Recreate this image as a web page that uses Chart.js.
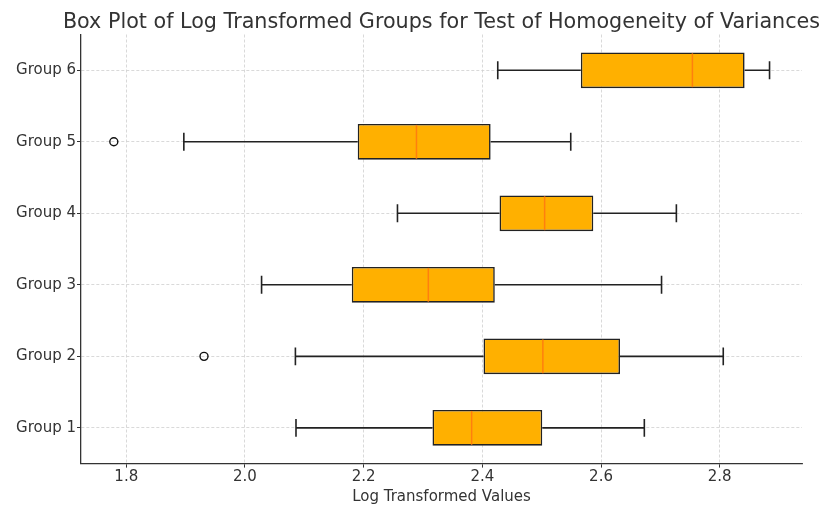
<!DOCTYPE html>
<html>
<head>
<meta charset="utf-8">
<script src="https://cdn.jsdelivr.net/npm/chart.js@4"></script>
<style>
  html, body { margin: 0; padding: 0; background: #fff; }
  #wrap { width: 823px; height: 506px; }
</style>
</head>
<body>
<div id="wrap"><canvas id="boxChart" width="823" height="506"></canvas></div>
<script>
// Box plot data (log transformed values)
const groups = ['Group 1', 'Group 2', 'Group 3', 'Group 4', 'Group 5', 'Group 6'];
const whiskerLow = [2.086, 2.085, 2.028, 2.257, 1.897, 2.426];
const q1Values = [2.316, 2.402, 2.180, 2.429, 2.190, 2.566];
const medians = [2.382, 2.502, 2.309, 2.505, 2.289, 2.754];
const q3Values = [2.501, 2.632, 2.421, 2.587, 2.414, 2.842];
const whiskerHigh = [2.673, 2.806, 2.702, 2.727, 2.549, 2.884];
const outlierGroups = ['Group 2', 'Group 5'];
const outlierValues = [1.931, 1.779];
const xTicks = [1.8, 2.0, 2.2, 2.4, 2.6, 2.8];

const FONT = 'DejaVu Sans';
const TEXT = '#333333';
const GRID = '#cfcfcf';
const TITLE = 'Box Plot of Log Transformed Groups for Test of Homogeneity of Variances';

// whiskers, caps and median lines drawn on top of the boxes
const boxParts = {
  id: 'boxParts',
  afterDatasetsDraw(chart) {
    const ctx = chart.ctx;
    const x = chart.scales.x;
    const y = chart.scales.y;
    const band = Math.abs(y.getPixelForValue(1) - y.getPixelForValue(0));
    const capHalf = band * 0.125;
    const boxHalf = band * 0.25;
    ctx.save();
    ctx.lineCap = 'butt';
    groups.forEach((g, i) => {
      const cy = y.getPixelForValue(i);
      // whiskers
      ctx.strokeStyle = '#222222';
      ctx.lineWidth = 1.6;
      ctx.beginPath();
      ctx.moveTo(x.getPixelForValue(whiskerLow[i]), cy);
      ctx.lineTo(x.getPixelForValue(q1Values[i]), cy);
      ctx.moveTo(x.getPixelForValue(q3Values[i]), cy);
      ctx.lineTo(x.getPixelForValue(whiskerHigh[i]), cy);
      // caps
      [whiskerLow[i], whiskerHigh[i]].forEach(v => {
        const px = x.getPixelForValue(v);
        ctx.moveTo(px, cy - capHalf);
        ctx.lineTo(px, cy + capHalf);
      });
      ctx.stroke();
      // median
      const mx = x.getPixelForValue(medians[i]);
      ctx.strokeStyle = '#ff7f0e';
      ctx.lineWidth = 1.5;
      ctx.beginPath();
      ctx.moveTo(mx, cy - boxHalf + 1);
      ctx.lineTo(mx, cy + boxHalf - 1);
      ctx.stroke();
    });
    ctx.restore();
  }
};

// title drawn by hand so it can run wider than the plot area, like the original
const titlePlugin = {
  id: 'wideTitle',
  afterDraw(chart) {
    const ctx = chart.ctx;
    const area = chart.chartArea;
    ctx.save();
    ctx.font = '20.7px "' + FONT + '"';
    ctx.fillStyle = TEXT;
    ctx.textAlign = 'center';
    ctx.textBaseline = 'alphabetic';
    ctx.fillText(TITLE, (area.left + area.right) / 2, 27.5);
    ctx.restore();
  }
};

const ctx = document.getElementById('boxChart').getContext('2d');

new Chart(ctx, {
  data: {
    labels: groups,
    datasets: [
      {
        type: 'bar',
        label: 'IQR',
        data: groups.map((g, i) => [q1Values[i], q3Values[i]]),
        backgroundColor: '#ffb000',
        borderColor: '#222222',
        borderWidth: 1.6,
        borderSkipped: false,
        barPercentage: 0.5,
        categoryPercentage: 1.0,
        order: 2
      },
      {
        type: 'scatter',
        label: 'Outliers',
        data: outlierGroups.map((g, i) => ({ x: outlierValues[i], y: g })),
        pointStyle: 'circle',
        pointRadius: 4,
        pointBackgroundColor: 'rgba(255,255,255,0)',
        pointBorderColor: '#111111',
        pointBorderWidth: 1.4,
        order: 1
      }
    ]
  },
  options: {
    indexAxis: 'y',
    responsive: false,
    animation: false,
    events: [],
    layout: { padding: { left: 0, right: 21, top: 34.5, bottom: 0 } },
    plugins: {
      legend: { display: false },
      tooltip: { enabled: false },
      title: { display: false }
    },
    scales: {
      x: {
        type: 'linear',
        min: 1.7237,
        max: 2.9387,
        afterBuildTicks(scale) {
          scale.ticks = xTicks.map(v => ({ value: v }));
        },
        afterFit(scale) {
          scale.height = 42.4;
        },
        ticks: {
          color: TEXT,
          font: { family: FONT, size: 15 },
          padding: 1,
          callback: v => Number(v).toFixed(1)
        },
        grid: {
          color: GRID,
          lineWidth: 0.8,
          tickColor: '#333333',
          tickLength: 4,
          tickBorderDash: [],
          tickWidth: 1
        },
        border: { display: true, color: '#333333', width: 1.3, dash: [3, 2] },
        title: {
          display: true,
          text: 'Log Transformed Values',
          color: TEXT,
          font: { family: FONT, size: 15 },
          padding: { top: 1, bottom: 0 }
        }
      },
      y: {
        type: 'category',
        reverse: true,
        offset: true,
        afterFit(scale) {
          scale.width = 81;
        },
        ticks: {
          color: TEXT,
          font: { family: FONT, size: 15 },
          padding: 1
        },
        grid: {
          color: GRID,
          lineWidth: 0.8,
          offset: false,
          tickColor: '#333333',
          tickLength: 4,
          tickBorderDash: [],
          tickWidth: 1
        },
        border: { display: true, color: '#333333', width: 1.3, dash: [3, 2] }
      }
    }
  },
  plugins: [boxParts, titlePlugin]
});
</script>
</body>
</html>
